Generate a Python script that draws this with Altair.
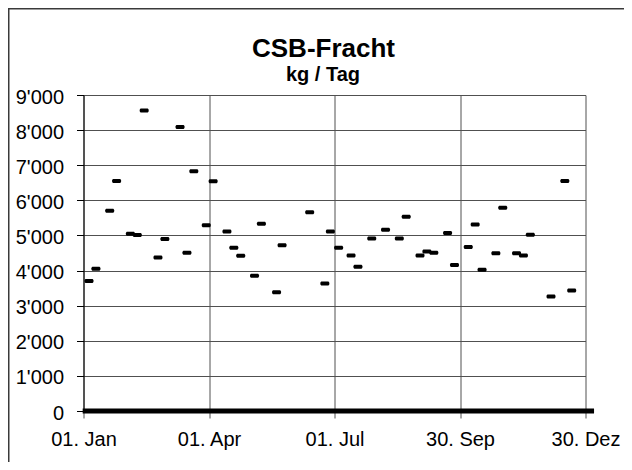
import json
import altair as alt
import pandas as pd

# --- data (day offset from 01. Jan, kg/Tag) ---
days = [4, 9, 19, 24, 34, 39, 44, 54, 59, 70, 75, 80, 89, 94, 104, 109, 114,
        124, 129, 140, 144, 164, 175, 179, 185, 194, 199, 209, 219, 229, 234,
        244, 249, 254, 264, 269, 279, 284, 289, 299, 304, 314, 319, 324, 339,
        349, 354]
values = [3700, 4050, 5700, 6550, 5050, 5010, 8560, 4370, 4900, 8090, 4510,
          6830, 5290, 6540, 5110, 4650, 4420, 3850, 5330, 3380, 4720, 5660,
          3630, 5110, 4650, 4430, 4110, 4910, 5160, 4910, 5530, 4430, 4540,
          4510, 5070, 4160, 4670, 5310, 4020, 4490, 5790, 4490, 4430, 5020,
          3260, 6550, 3430]

x_tick_days = [0, 91, 182, 273, 364]
x_tick_labels = ["01. Jan", "01. Apr", "01. Jul", "30. Sep", "30. Dez"]
y_ticks = [0, 1000, 2000, 3000, 4000, 5000, 6000, 7000, 8000, 9000]

title_text = "CSB-Fracht"
subtitle_text = "kg / Tag"

df = pd.DataFrame({"day": days, "value": values})

FONT = "Liberation Sans"
GRID = "#505050"

x_label_expr = "{}[indexof({}, datum.value)]".format(
    json.dumps(x_tick_labels), json.dumps(x_tick_days))
y_label_expr = "replace(format(datum.value, ','), ',', \"'\")"

x_scale = alt.Scale(domain=[x_tick_days[0], x_tick_days[-1]], nice=False, zero=False)
y_scale = alt.Scale(domain=[y_ticks[0], y_ticks[-1]], nice=False)

x_axis = alt.Axis(values=x_tick_days, labelExpr=x_label_expr, title=None,
                  grid=True, gridColor=GRID, gridWidth=1,
                  tickColor=GRID, tickSize=7, domainColor="black",
                  labelFont=FONT, labelFontSize=20, labelColor="black",
                  labelPadding=11.5, labelFlush=False, labelOverlap=False)
y_axis = alt.Axis(values=y_ticks, labelExpr=y_label_expr, title=None,
                  grid=True, gridColor=GRID, gridWidth=1,
                  tickColor="black", tickSize=7, domainColor="black",
                  labelFont=FONT, labelFontSize=20, labelColor="black",
                  labelPadding=13, labelOffset=2, labelOverlap=False)

points = alt.Chart(df).mark_tick(
    orient="horizontal", size=9, thickness=4, color="black",
    cornerRadius=1.5, opacity=1
).encode(
    x=alt.X("day:Q", scale=x_scale, axis=x_axis),
    y=alt.Y("value:Q", scale=y_scale, axis=y_axis),
)

# the days without measurement sit on 0 and merge into a thick bar
zero_bar = alt.Chart(alt.Data(values=[{}])).mark_rule(
    color="black", strokeWidth=5, strokeCap="butt"
).encode(
    x=alt.XDatum(-0.6, type="quantitative", scale=x_scale, axis=x_axis),
    x2=alt.datum(370.2),
    y=alt.YDatum(0, type="quantitative", scale=y_scale, axis=y_axis),
)

frame = alt.Chart(alt.Data(values=[{}])).mark_rect(
    fill="transparent", stroke="#3a3a3a", strokeWidth=1.5
).encode(
    x=alt.value(-74.75), x2=alt.value(700),
    y=alt.value(-86.25), y2=alt.value(600),
)

title = alt.Chart(alt.Data(values=[{"t": title_text}])).mark_text(
    font=FONT, fontSize=26, fontWeight="bold", color="black",
    align="center", baseline="alphabetic"
).encode(text="t:N", x=alt.value(240), y=alt.value(-38.5))

subtitle = alt.Chart(alt.Data(values=[{"t": subtitle_text}])).mark_text(
    font=FONT, fontSize=20, fontWeight="bold", color="black",
    align="center", baseline="alphabetic"
).encode(text="t:N", x=alt.value(239.5), y=alt.value(-14))

chart = alt.layer(zero_bar, points, frame, title, subtitle).properties(
    width=502,
    height=316,
    padding={"left": 75.5, "top": 87, "right": 38.5, "bottom": 51},
    autosize=alt.AutoSizeParams(type="none"),
    background="white",
).configure_view(strokeWidth=0)

chart.save("out.html", embed_options={"renderer": "svg", "actions": False})
